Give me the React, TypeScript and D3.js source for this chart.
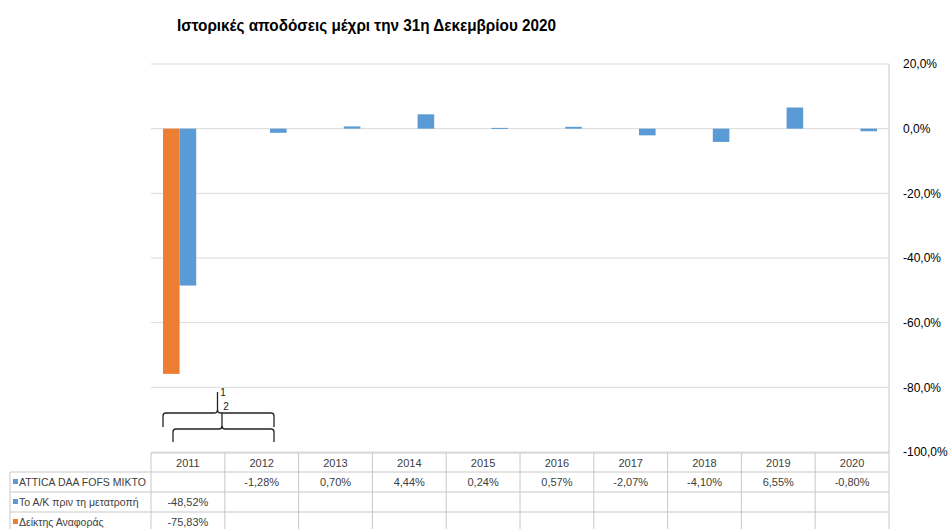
import React from "react";
import * as d3 from "d3";

const categories = ["2011", "2012", "2013", "2014", "2015", "2016", "2017", "2018", "2019", "2020"];
const seriesNames = ["ATTICA DAA FOFS MIKTO", "Το Α/Κ πριν τη μετατροπή", "Δείκτης Αναφοράς"];
const atticaValues: (number | null)[] = [null, -1.28, 0.7, 4.44, 0.24, 0.57, -2.07, -4.1, 6.55, -0.8];
const akValues: (number | null)[] = [-48.52, null, null, null, null, null, null, null, null, null];
const indexValues: (number | null)[] = [-75.83, null, null, null, null, null, null, null, null, null];
const yTicks = [20, 0, -20, -40, -60, -80, -100];
const title = "Ιστορικές αποδόσεις μέχρι την 31η Δεκεμβρίου 2020";

const BLUE = "#5B9BD5";
const ORANGE = "#ED7D31";

const fmt = (v: number) => v.toFixed(2).replace(".", ",") + "%";
const fmtTick = (v: number) => v.toFixed(1).replace(".", ",") + "%";

export default function App() {
  const W = 949, H = 529;
  const left = 151, right = 889;
  const x = d3.scaleBand<string>().domain(categories).range([left, right]).paddingInner(0).paddingOuter(0);
  const y = d3.scaleLinear().domain([-100, 20]).range([452, 64]);
  const bw = x.bandwidth();
  const groupPad = 12;
  const inner = d3.scaleBand<string>().domain(["idx", "ak", "att"]).range([groupPad, bw - groupPad]).padding(0);

  const series = [
    { key: "idx", values: indexValues, color: ORANGE },
    { key: "ak", values: akValues, color: BLUE },
    { key: "att", values: atticaValues, color: BLUE },
  ];

  const rowValues = [atticaValues, akValues, indexValues];
  const rowColors = [BLUE, BLUE, ORANGE];
  const headerTop = 453, rowH = 19.7;
  const rowTops = [472, 492, 512];
  const font = "'Liberation Sans', Arial, sans-serif";
  const grid = "#d9d9d9";
  const border = "#c8c8c8";
  const textCol = "#404040";

  return (
    <svg width={W} height={H} style={{ position: "absolute", left: 0, top: 0, background: "#fff" }} fontFamily={font}>
      <rect x={0} y={0} width={W} height={H} fill="#fff" />
      <text x={177} y={31} fontSize={16} fontWeight="bold" fill="#000" textLength={379} lengthAdjust="spacingAndGlyphs">{title}</text>

      {yTicks.map((t) => (
        <g key={t}>
          <line x1={left} x2={right} y1={y(t)} y2={y(t)} stroke={grid} strokeWidth={1} />
          <text x={903} y={y(t)} dy="0.35em" fontSize={12} fill="#000">{fmtTick(t)}</text>
        </g>
      ))}
      <line x1={right} x2={right} y1={y(20)} y2={H} stroke={border} strokeWidth={1} />

      {series.map((s) =>
        s.values.map((v, i) =>
          v == null ? null : (
            <rect
              key={s.key + i}
              x={(x(categories[i]) as number) + (inner(s.key) as number)}
              width={inner.bandwidth()}
              y={Math.min(y(v), y(0))}
              height={Math.max(1, Math.abs(y(v) - y(0)))}
              fill={s.color}
            />
          )
        )
      )}

      {/* multi-level axis artifact */}
      <g stroke="#222" strokeWidth={1.3} fill="none">
        <line x1={217.5} x2={217.5} y1={392} y2={411} />
        <path d="M163,427 L163,416 Q163,413 166,413 L214,413 Q217.5,413 217.5,410 Q217.5,413 221,413 L271,413 Q274,413 274,416 L274,427" />
        <line x1={222} x2={222} y1={413} y2={427} />
        <path d="M173,442 L173,432 Q173,429 176,429 L219,429 Q222,429 222,426 Q222,429 225,429 L271,429 Q274,429 274,432 L274,442" />
      </g>
      <text x={223} y={396} fontSize={10} fill="#222" textAnchor="middle">1</text>
      <text x={226} y={410} fontSize={10} fill="#222" textAnchor="middle">2</text>

      {/* data table */}
      <g stroke={border} strokeWidth={1}>
        <line x1={left} x2={right} y1={headerTop} y2={headerTop} />
        {rowTops.map((t) => (
          <line key={t} x1={10} x2={right} y1={t} y2={t} />
        ))}
        <line x1={10} x2={10} y1={472} y2={H} />
        {categories.map((c) => (
          <line key={c} x1={x(c) as number} x2={x(c) as number} y1={headerTop} y2={H} />
        ))}
      </g>
      {categories.map((c) => (
        <text key={c} x={(x(c) as number) + bw / 2} y={headerTop + rowH / 2} dy="0.35em" fontSize={11} textAnchor="middle" fill={textCol}>
          {c}
        </text>
      ))}
      {seriesNames.map((n, r) => (
        <g key={n}>
          <rect x={13} y={rowTops[r] + 7} width={5} height={5} fill={rowColors[r]} />
          <text x={19} y={rowTops[r] + 10} dy="0.35em" fontSize={10.5} fill={textCol}>{n}</text>
          {rowValues[r].map((v, i) =>
            v == null ? null : (
              <text key={i} x={(x(categories[i]) as number) + bw / 2} y={rowTops[r] + 10} dy="0.35em" fontSize={11} textAnchor="middle" fill={textCol}>
                {fmt(v)}
              </text>
            )
          )}
        </g>
      ))}
    </svg>
  );
}
